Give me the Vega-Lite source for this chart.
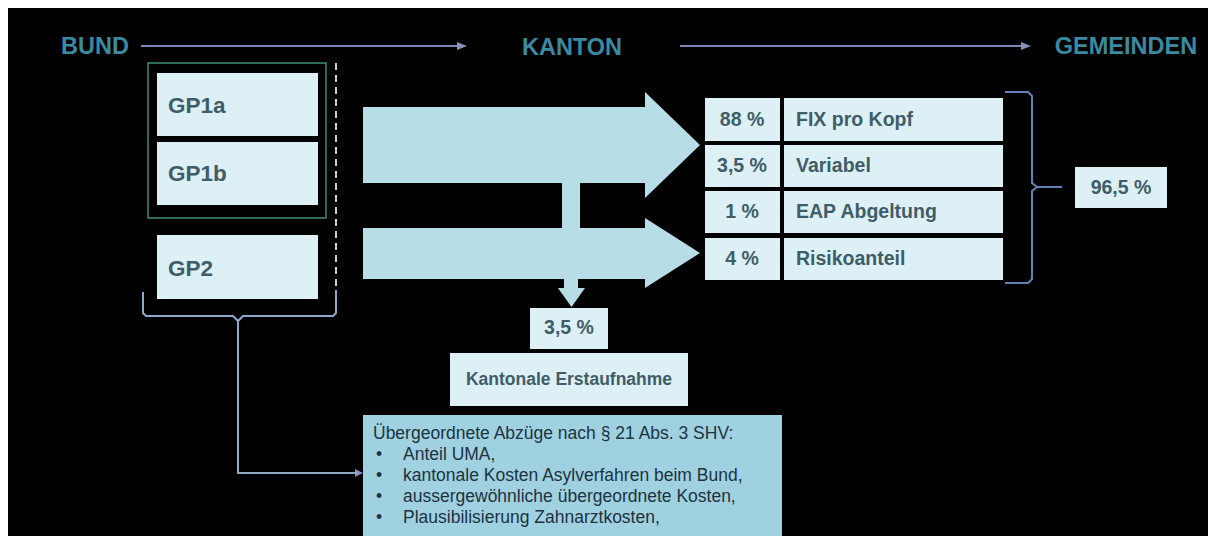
{
  "$schema": "https://vega.github.io/schema/vega-lite/v6.json",
  "width": 1208,
  "height": 536,
  "autosize": {"type": "fit", "contains": "padding"},
  "padding": 0,
  "background": "#ffffff",
  "config": {"view": {"stroke": null}},
  "datasets": {
    "bg": [{"x": 8, "x2": 1208, "y": 8, "y2": 536}],
    "hlines": [
      {"x": 141, "x2": 460, "y": 46, "y2": 46},
      {"x": 680, "x2": 1024, "y": 46, "y2": 46}
    ],
    "smallheads": [
      {"id": "h1", "x": 457, "y": 42, "y2": 50},
      {"id": "h1", "x": 467, "y": 46, "y2": 46},
      {"id": "h2", "x": 1021, "y": 42, "y2": 50},
      {"id": "h2", "x": 1031, "y": 46, "y2": 46},
      {"id": "h3", "x": 355, "y": 469, "y2": 477},
      {"id": "h3", "x": 363, "y": 473, "y2": 473}
    ],
    "bigheads": [
      {"id": "a1", "x": 645, "y": 92, "y2": 198},
      {"id": "a1", "x": 700, "y": 145, "y2": 145},
      {"id": "a2", "x": 645, "y": 218, "y2": 288},
      {"id": "a2", "x": 700, "y": 253, "y2": 253}
    ],
    "downhead": [
      {"y": 288, "x": 558, "x2": 585},
      {"y": 307, "x": 571.5, "x2": 571.5}
    ],
    "arrowbody": [
      {"x": 363, "x2": 645, "y": 107, "y2": 183},
      {"x": 363, "x2": 645, "y": 228, "y2": 279},
      {"x": 562, "x2": 580, "y": 183, "y2": 228},
      {"x": 564, "x2": 578, "y": 279, "y2": 289}
    ],
    "outline": [{"x": 148, "x2": 326, "y": 63, "y2": 218}],
    "light": [
      {"x": 157, "x2": 318, "y": 73, "y2": 136},
      {"x": 157, "x2": 318, "y": 142, "y2": 205},
      {"x": 157, "x2": 318, "y": 235, "y2": 299},
      {"x": 705, "x2": 780, "y": 98, "y2": 141},
      {"x": 784, "x2": 1003, "y": 98, "y2": 141},
      {"x": 705, "x2": 780, "y": 145, "y2": 187},
      {"x": 784, "x2": 1003, "y": 145, "y2": 187},
      {"x": 705, "x2": 780, "y": 191, "y2": 233},
      {"x": 784, "x2": 1003, "y": 191, "y2": 233},
      {"x": 705, "x2": 780, "y": 238, "y2": 280},
      {"x": 784, "x2": 1003, "y": 238, "y2": 280},
      {"x": 1075, "x2": 1167, "y": 167, "y2": 208},
      {"x": 530, "x2": 608, "y": 308, "y2": 349},
      {"x": 450, "x2": 688, "y": 353, "y2": 406}
    ],
    "bottombox": [{"x": 363, "x2": 782, "y": 415, "y2": 536}],
    "dash": [{"x": 336, "x2": 336, "y": 63, "y2": 292}],
    "bracketL": [
      {"id": "b1", "o": 1, "x": 143, "y": 292},
      {"id": "b1", "o": 2, "x": 143, "y": 313},
      {"id": "b1", "o": 3, "x": 146, "y": 316},
      {"id": "b1", "o": 4, "x": 233, "y": 316},
      {"id": "b1", "o": 5, "x": 238, "y": 321},
      {"id": "b1", "o": 6, "x": 243, "y": 316},
      {"id": "b1", "o": 7, "x": 333, "y": 316},
      {"id": "b1", "o": 8, "x": 336, "y": 313},
      {"id": "b1", "o": 9, "x": 336, "y": 290},
      {"id": "b2", "o": 1, "x": 238, "y": 321},
      {"id": "b2", "o": 2, "x": 238, "y": 473},
      {"id": "b2", "o": 3, "x": 358, "y": 473}
    ],
    "bracketR": [
      {"id": "r1", "o": 1, "x": 1005, "y": 92},
      {"id": "r1", "o": 2, "x": 1028, "y": 92},
      {"id": "r1", "o": 3, "x": 1032, "y": 96},
      {"id": "r1", "o": 4, "x": 1032, "y": 183},
      {"id": "r1", "o": 5, "x": 1037, "y": 187},
      {"id": "r1", "o": 6, "x": 1032, "y": 191},
      {"id": "r1", "o": 7, "x": 1032, "y": 279},
      {"id": "r1", "o": 8, "x": 1028, "y": 283},
      {"id": "r1", "o": 9, "x": 1005, "y": 283},
      {"id": "r2", "o": 1, "x": 1037, "y": 187},
      {"id": "r2", "o": 2, "x": 1062, "y": 187}
    ],
    "headers": [
      {"x": 95, "y": 47, "t": "BUND"},
      {"x": 572, "y": 48, "t": "KANTON"},
      {"x": 1126, "y": 47, "t": "GEMEINDEN"}
    ],
    "gplabels": [
      {"x": 168, "y": 106, "t": "GP1a"},
      {"x": 168, "y": 174, "t": "GP1b"},
      {"x": 168, "y": 269, "t": "GP2"}
    ],
    "centerlabels": [
      {"x": 742, "y": 120, "t": "88 %"},
      {"x": 742, "y": 166, "t": "3,5 %"},
      {"x": 742, "y": 212, "t": "1 %"},
      {"x": 742, "y": 259, "t": "4 %"},
      {"x": 1121, "y": 188, "t": "96,5 %"},
      {"x": 569, "y": 328, "t": "3,5 %"}
    ],
    "leftlabels": [
      {"x": 796, "y": 120, "t": "FIX pro Kopf"},
      {"x": 796, "y": 166, "t": "Variabel"},
      {"x": 796, "y": 212, "t": "EAP Abgeltung"},
      {"x": 796, "y": 259, "t": "Risikoanteil"}
    ],
    "kant": [{"x": 569, "y": 380, "t": "Kantonale Erstaufnahme"}],
    "bottomtext": [
      {"x": 373, "y": 434, "t": "Übergeordnete Abzüge nach § 21 Abs. 3 SHV:"},
      {"x": 376, "y": 455, "t": "•"},
      {"x": 403, "y": 455, "t": "Anteil UMA,"},
      {"x": 376, "y": 476, "t": "•"},
      {"x": 403, "y": 476, "t": "kantonale Kosten Asylverfahren  beim Bund,"},
      {"x": 376, "y": 497, "t": "•"},
      {"x": 403, "y": 497, "t": "aussergewöhnliche übergeordnete Kosten,"},
      {"x": 376, "y": 518, "t": "•"},
      {"x": 403, "y": 518, "t": "Plausibilisierung Zahnarztkosten,"}
    ]
  },
  "encoding": {
    "x": {"field": "x", "type": "quantitative", "axis": null, "scale": {"domain": [0, 1208], "nice": false, "zero": false}},
    "y": {"field": "y", "type": "quantitative", "axis": null, "scale": {"domain": [0, 536], "nice": false, "zero": false, "reverse": true}}
  },
  "layer": [
    {"data": {"name": "bg"}, "mark": {"type": "rect", "fill": "#000000"}, "encoding": {"x2": {"field": "x2"}, "y2": {"field": "y2"}}},
    {"data": {"name": "hlines"}, "mark": {"type": "rule", "stroke": "#7f86b8", "strokeWidth": 2.2}, "encoding": {"x2": {"field": "x2"}, "y2": {"field": "y2"}}},
    {"data": {"name": "smallheads"}, "mark": {"type": "area", "fill": "#8a90bc", "opacity": 1}, "encoding": {"y2": {"field": "y2"}, "detail": {"field": "id"}}},
    {"data": {"name": "arrowbody"}, "mark": {"type": "rect", "fill": "#b7dee7"}, "encoding": {"x2": {"field": "x2"}, "y2": {"field": "y2"}}},
    {"data": {"name": "bigheads"}, "mark": {"type": "area", "fill": "#b7dee7", "opacity": 1}, "encoding": {"y2": {"field": "y2"}, "detail": {"field": "id"}}},
    {"data": {"name": "downhead"}, "mark": {"type": "area", "orient": "horizontal", "fill": "#b7dee7", "opacity": 1}, "encoding": {"x2": {"field": "x2"}}},
    {"data": {"name": "outline"}, "mark": {"type": "rect", "fill": "#000000", "stroke": "#3f8c7a", "strokeWidth": 1.5}, "encoding": {"x2": {"field": "x2"}, "y2": {"field": "y2"}}},
    {"data": {"name": "light"}, "mark": {"type": "rect", "fill": "#dcf0f6"}, "encoding": {"x2": {"field": "x2"}, "y2": {"field": "y2"}}},
    {"data": {"name": "bottombox"}, "mark": {"type": "rect", "fill": "#a0d1e0"}, "encoding": {"x2": {"field": "x2"}, "y2": {"field": "y2"}}},
    {"data": {"name": "dash"}, "mark": {"type": "rule", "stroke": "#c8ccd0", "strokeWidth": 2, "strokeDash": [7, 5]}, "encoding": {"x2": {"field": "x2"}, "y2": {"field": "y2"}}},
    {"data": {"name": "bracketL"}, "mark": {"type": "line", "stroke": "#8ea8cc", "strokeWidth": 2}, "encoding": {"detail": {"field": "id"}, "order": {"field": "o"}}},
    {"data": {"name": "bracketR"}, "mark": {"type": "line", "stroke": "#5f82b8", "strokeWidth": 2}, "encoding": {"detail": {"field": "id"}, "order": {"field": "o"}}},
    {"data": {"name": "headers"}, "mark": {"type": "text", "font": "Liberation Sans", "fontWeight": "bold", "fontSize": 23.5, "fill": "#3b8aa2", "align": "center", "baseline": "middle"}, "encoding": {"text": {"field": "t"}}},
    {"data": {"name": "gplabels"}, "mark": {"type": "text", "font": "Liberation Sans", "fontWeight": "bold", "fontSize": 22.5, "fill": "#3f5d68", "align": "left", "baseline": "middle"}, "encoding": {"text": {"field": "t"}}},
    {"data": {"name": "centerlabels"}, "mark": {"type": "text", "font": "Liberation Sans", "fontWeight": "bold", "fontSize": 19.5, "fill": "#3f5d68", "align": "center", "baseline": "middle"}, "encoding": {"text": {"field": "t"}}},
    {"data": {"name": "leftlabels"}, "mark": {"type": "text", "font": "Liberation Sans", "fontWeight": "bold", "fontSize": 19.5, "fill": "#3f5d68", "align": "left", "baseline": "middle"}, "encoding": {"text": {"field": "t"}}},
    {"data": {"name": "kant"}, "mark": {"type": "text", "font": "Liberation Sans", "fontWeight": "bold", "fontSize": 17.5, "fill": "#3f5d68", "align": "center", "baseline": "middle"}, "encoding": {"text": {"field": "t"}}},
    {"data": {"name": "bottomtext"}, "mark": {"type": "text", "font": "Liberation Sans", "fontSize": 17.5, "fill": "#1c3340", "align": "left", "baseline": "middle"}, "encoding": {"text": {"field": "t"}}}
  ]
}
